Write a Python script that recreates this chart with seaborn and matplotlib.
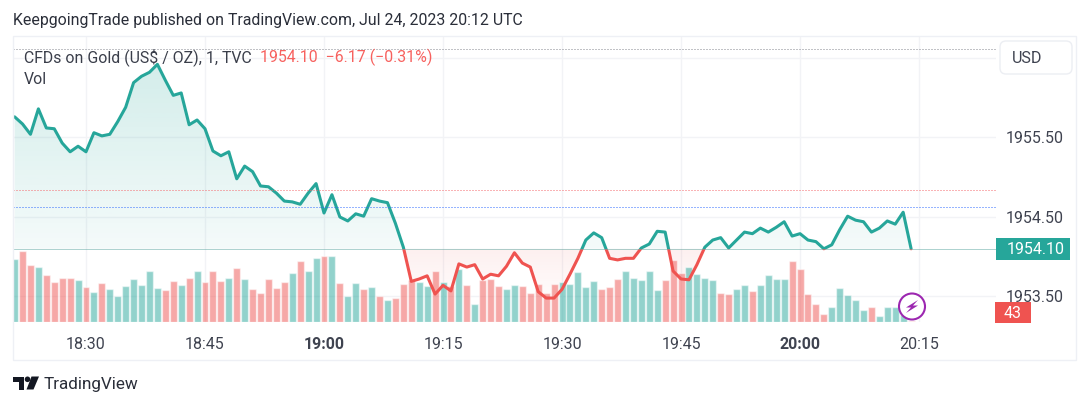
import numpy as np
import pandas as pd
import matplotlib
matplotlib.use("Agg")
import matplotlib.pyplot as plt
import seaborn as sns
from matplotlib.colors import to_rgba
from matplotlib.patches import Rectangle, FancyBboxPatch, Circle, Polygon

sns.set_theme(style="white")
plt.rcParams['font.family'] = ['Roboto', 'DejaVu Sans']

TEAL = "#26a69a"
RED = "#ef5350"
TXT = "#3f4350"

# one value per minute, starting 18:21
price = [1955.76,1955.67,1955.54,1955.86,1955.62,1955.61,1955.43,1955.32,1955.39,1955.32,
         1955.56,1955.52,1955.54,1955.70,1955.88,1956.19,1956.27,1956.32,1956.42,1956.22,
         1956.03,1956.06,1955.66,1955.72,1955.61,1955.33,1955.27,1955.32,1954.98,1955.14,
         1955.07,1954.89,1954.88,1954.80,1954.70,1954.69,1954.66,1954.80,1954.92,1954.55,
         1954.78,1954.50,1954.45,1954.54,1954.51,1954.73,1954.70,1954.68,1954.42,1954.12,
         1953.69,1953.72,1953.76,1953.53,1953.64,1953.57,1953.91,1953.87,1953.90,1953.72,
         1953.78,1953.76,1953.88,1954.05,1953.92,1953.87,1953.56,1953.48,1953.48,1953.59,
         1953.78,1953.98,1954.21,1954.30,1954.24,1953.98,1953.96,1953.98,1953.98,1954.11,
         1954.16,1954.32,1954.31,1953.82,1953.72,1953.71,1953.90,1954.12,1954.21,1954.24,
         1954.11,1954.21,1954.31,1954.29,1954.36,1954.31,1954.37,1954.44,1954.26,1954.29,
         1954.21,1954.19,1954.10,1954.15,1954.34,1954.51,1954.46,1954.44,1954.31,1954.36,
         1954.45,1954.41,1954.56,1954.10]
volume = [2646,2968,2380,2310,1960,1694,1848,1848,1764,1470,
          1260,1624,1400,1106,1526,1820,1554,2156,1428,1330,
          1722,1554,1848,2156,1666,2156,1722,1848,2282,1792,
          1372,1232,1820,1428,1694,2058,2548,2156,2702,2772,
          2772,1624,1078,1624,1372,1470,1078,938,1008,1596,
          1764,1694,1498,2156,1694,1526,2240,1568,742,1764,
          1792,1498,1400,1568,1498,1204,1596,1204,1596,1666,
          1596,2086,1470,1722,1400,1470,1820,2128,1848,1764,
          2128,1330,1764,2604,2058,2310,2016,1848,1764,1232,
          1176,1372,1554,1302,1554,1988,1820,1820,2576,2212,
          1176,742,350,616,1428,1134,910,490,616,252,
          644,616,294,43]
side = ["t","r","r","t","r","r","r","r","t","r","t","r","t","t","t","t","t","t","t","r",
        "r","t","r","t","r","r","r","t","r","t","r","r","r","r","r","t","r","t","t","r",
        "t","r","t","t","r","t","r","t","r","r","r","t","t","r","t","r","t","r","t","r",
        "r","r","t","t","r","r","r","r","r","t","t","t","t","t","r","r","r","t","t","t",
        "t","t","r","r","r","t","t","t","t","r","r","t","t","r","t","t","t","t","r","r",
        "r","r","r","t","t","t","t","t","r","t","t","t","t","r"]
minutes = list(range(21, 135))

tick_minutes = [30, 45, 60, 75, 90, 105, 120, 135]
tick_labels = ["18:30", "18:45", "19:00", "19:15", "19:30", "19:45", "20:00", "20:15"]
bold_labels = ["19:00", "20:00"]
price_ticks = [1953.5, 1954.5, 1955.5, 1956.5]
price_labels = ["1953.50", "1954.50", "1955.50", ""]

base = 1954.10
high_line = 1956.61
red_line = 1954.84
blue_line = 1954.63

df = pd.DataFrame({"minute": minutes, "price": price, "volume": volume, "side": side})

W, H = 1090, 407
fig = plt.figure(figsize=(W / 100, H / 100), dpi=100, facecolor="white")
rect = [13 / W, 1 - 322 / H, 983 / W, 285 / H]
xlim = (20.8, 144.7)
ylim = (1953.179, 1956.764)

ax = fig.add_axes(rect, zorder=1)
ax_vol = fig.add_axes(rect, zorder=2, facecolor="none")
ax_line = fig.add_axes(rect, zorder=3, facecolor="none")

# grid + gradient fill
ax.set_axisbelow(True)
ax.grid(True, color="#f2f3f6", lw=1)
poly = ax.fill_between(df["minute"], df["price"], base, color="none", lw=0)
ys = np.linspace(ylim[1], ylim[0], 300)
img = np.zeros((300, 1, 4))
for i, y in enumerate(ys):
    if y >= base:
        a = 0.05 + 0.15 * (y - base) / (1956.42 - base)
        img[i, 0] = to_rgba(TEAL, min(a, 0.2))
    else:
        a = 0.09 - 0.07 * (base - y) / (base - 1953.48)
        img[i, 0] = to_rgba(RED, max(a, 0.02))
im = ax.imshow(img, extent=(xlim[0], xlim[1], ylim[0], ylim[1]), aspect="auto", zorder=1)
im.set_clip_path(poly.get_paths()[0], ax.transData)

ax.set_xlim(*xlim)
ax.set_ylim(*ylim)
ax.set_xticks(tick_minutes)
ax.set_xticklabels(tick_labels, fontsize=11.5, color=TXT)
for lab in ax.get_xticklabels():
    if lab.get_text() in bold_labels:
        lab.set_fontweight("bold")
ax.yaxis.tick_right()
ax.set_yticks(price_ticks)
ax.set_yticklabels(price_labels, fontsize=11.5, color=TXT)
ax.tick_params(axis="x", length=0, pad=10.5)
ax.tick_params(axis="y", length=0, pad=7)
ax.set_xlabel("")
ax.set_ylabel("")
sns.despine(ax=ax, left=True, bottom=True, right=True, top=True)

# volume
sns.barplot(data=df, x="minute", y="volume", hue="side", native_scale=True, dodge=False,
            palette={"t": TEAL, "r": RED}, saturation=1, alpha=0.5, width=0.88,
            legend=False, ax=ax_vol)
ax_vol.set_xlim(*xlim)
ax_vol.set_ylim(0, 11970)
ax_vol.axis("off")

# baseline-coloured price line
for colour, y0, y1 in [(TEAL, base, ylim[1]), (RED, ylim[0], base)]:
    n = len(ax_line.lines)
    sns.lineplot(data=df, x="minute", y="price", color=colour, lw=2.2, estimator=None,
                 ax=ax_line)
    ln = ax_line.lines[n]
    ln.set_solid_joinstyle("round")
    ln.set_clip_path(Rectangle((xlim[0], y0), xlim[1] - xlim[0], y1 - y0,
                               transform=ax_line.transData))
ax_line.axhline(high_line, color="#85878f", lw=0.72, ls=(0, (1, 2)))
ax_line.axhline(red_line, color="#f4686c", lw=0.72, ls=(0, (1, 2)))
ax_line.axhline(blue_line, color="#2f6bff", lw=0.72, ls=(0, (1, 2)))
ax_line.axhline(base, color="#5fa8a2", lw=0.72, ls=(0, (1, 1)))
ax_line.set_xlim(*xlim)
ax_line.set_ylim(*ylim)
ax_line.axis("off")

# overlay in pixel coordinates for the widget furniture
ov = fig.add_axes([0, 0, 1, 1], zorder=4, facecolor="none")
ov.set_xlim(0, W)
ov.set_ylim(H, 0)
ov.axis("off")

ov.add_patch(Rectangle((13, 36), 1063, 324, fill=False, ec="#eef0f5", lw=1))
ov.text(13, 21, "KeepgoingTrade published on TradingView.com, Jul 24, 2023 20:12 UTC",
        fontsize=11.44, color="#2a2e39", va="center")
ov.text(24, 57, "CFDs on Gold (US$ / OZ), 1, TVC", fontsize=11.45, color="#3a3e4a", va="center")
ov.text(260, 57, "1954.10  \u22126.17 (\u22120.31%)", fontsize=11.4, color="#f7615e", va="center")
ov.text(24, 79, "Vol", fontsize=11.45, color="#3a3e4a", va="center")

ov.add_patch(FancyBboxPatch((1003, 44), 66, 27, boxstyle="round,pad=3,rounding_size=6",
                            fc="white", ec="#eceef3", lw=1))
ov.text(1012, 58.5, "USD", fontsize=11.6, color=TXT, va="center")

ov.add_patch(Rectangle((996, 238), 74, 22, fc=TEAL, ec="none"))
ov.text(1007, 250, "1954.10", fontsize=11.5, color="white", va="center")
ov.add_patch(Rectangle((995, 302), 36, 21, fc=RED, ec="none"))
ov.text(1013, 313.5, "43", fontsize=11.5, color="white", va="center", ha="center")

# lightning badge
ov.add_patch(Circle((912, 306.5), 13, fc="white", ec="#9c27b0", lw=1.5))
ov.add_patch(Polygon([(918, 300), (906, 307.5), (911, 307.5), (906, 313), (918, 305.5),
                      (913, 305.5)], fc="#9c27b0", ec="none"))

# logo
ov.add_patch(Polygon([(13.3, 376.5), (24, 376.5), (24, 389.5), (18.5, 389.5), (18.5, 382),
                      (13.3, 382)], fc="#131722", ec="none"))
ov.add_patch(Circle((27.5, 379.3), 2.8, fc="#131722", ec="none"))
ov.add_patch(Polygon([(39, 376.5), (33.5, 389.5), (26.5, 389.5), (31.5, 376.5)],
                     fc="#131722", ec="none"))
ov.text(44, 384.5, "TradingView", fontsize=12.3, color="#2a2e39", va="center")

fig.savefig("out.png", dpi=100)
